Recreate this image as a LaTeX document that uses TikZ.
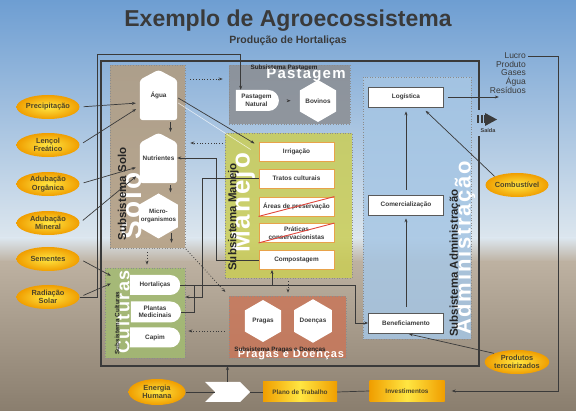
\documentclass[tikz,border=0pt]{standalone}
\usepackage{fontspec}
\setmainfont{Liberation Sans}
\newfontfamily\widefont[LetterSpace=8]{Liberation Sans}
\usepackage{tikz}
\usetikzlibrary{arrows.meta,calc,shapes.geometric,shapes.misc,shapes.symbols}
\definecolor{sky}{HTML}{6E9ED2}
\definecolor{haze}{HTML}{DCE6EE}
\definecolor{ground}{HTML}{BDB1A1}
\definecolor{soil}{HTML}{8A7E6E}
\definecolor{ink}{HTML}{3A3A3A}
\definecolor{extin}{HTML}{FFE642}
\definecolor{extout}{HTML}{F09E00}
\definecolor{extink}{HTML}{4E4428}
\definecolor{solop}{HTML}{B39C7E}
\definecolor{pastp}{HTML}{8C8E92}
\definecolor{manep}{HTML}{CACD56}
\definecolor{cultp}{HTML}{A3BC72}
\definecolor{pragp}{HTML}{C8775A}
\definecolor{admp}{HTML}{A6C6E4}
\definecolor{boxline}{HTML}{E8A24A}
\definecolor{cross}{HTML}{E0463C}
\pgfdeclarelayer{bg}
\pgfdeclarelayer{mid}
\pgfsetlayers{bg,mid,main}

\begin{document}
\begin{tikzpicture}[x=1pt, y=-1pt, font=\fontsize{6.4}{7.4}\selectfont\bfseries, text=ink,
  >={Stealth[length=4pt,width=3pt]},
  link/.style={draw=ink, line width=0.7pt},
  dots/.style={draw=ink, line width=0.8pt, dotted},
  frame/.style={draw=ink, line width=1.2pt},
  panel/.style={draw=black!45, dotted, line width=0.6pt, fill opacity=0.85, inner sep=0pt},
  ext/.style={ellipse, minimum width=63pt, minimum height=24pt, inner sep=0pt, align=center, inner color=extin, outer color=extout, text=extink, font=\fontsize{7.4}{8.4}\selectfont\bfseries},
  plan/.style={minimum width=74pt, minimum height=20pt, inner sep=0pt, left color=extout, right color=extout, middle color=extin, text=extink},
  hbox/.style={minimum width=37pt, minimum height=50pt, inner sep=0pt, align=center},
  hexa/.style={regular polygon, regular polygon sides=6, shape border rotate=30, fill=white, inner sep=0pt, align=center},
  crop/.style={rounded rectangle, rounded rectangle left arc=none, fill=white, minimum width=50pt, minimum height=20pt, inner sep=0pt, align=center},
  mbox/.style={draw=boxline, line width=0.8pt, fill=white, minimum width=75pt, minimum height=19pt, inner sep=0pt, align=center},
  abox/.style={draw=black!65, line width=0.7pt, fill=white, minimum width=75pt, minimum height=20pt, inner sep=0pt},
  big/.style={text=white, font=\widefont\bfseries\fontsize{#1}{#1}\selectfont},
  tag/.style={text=black!85, font=\fontsize{#1}{#1}\selectfont\bfseries}]
  \useasboundingbox (0,0) rectangle (576,411);
  \begin{pgfonlayer}{bg}
    % sky and ground
    \shade[top color=sky, bottom color=haze] (0,0) rectangle (576,238);
    \shade[top color=haze, bottom color=ground] (0,238) rectangle (576,262);
    \shade[top color=ground, bottom color=soil] (0,262) rectangle (576,411);
    % subsystem panels
    \node[panel, fill=solop, minimum width=75pt, minimum height=183pt] (solo) at (147.5,156.5) {};
    \node[panel, fill=pastp, minimum width=121pt, minimum height=59pt] (past) at (289.5,94.5) {};
    \node[panel, fill=manep, minimum width=127pt, minimum height=145pt] (mane) at (288.5,205.5) {};
    \node[panel, fill=cultp, minimum width=80pt, minimum height=90pt] (cult) at (145,313) {};
    \node[panel, fill=pragp, minimum width=117pt, minimum height=62pt] (prag) at (287.5,327) {};
    \node[panel, fill=admp, minimum width=108pt, minimum height=262pt] (adm) at (417,208) {};
    % big panel names
    \node[big=28, rotate=90] (soloB) at (131,206) {Solo};
    \node[big=15] (pastB) at (306,75) {Pastagem};
    \node[big=26, rotate=90] (maneB) at (243,203) {Manejo};
    \node[big=18, rotate=90] (cultB) at (123,312) {Culturas};
    \node[big=11] (pragB) at (291,355) {Pragas e Doenças};
    \node[big=22, rotate=90] (admB) at (465,248) {Administração};
  \end{pgfonlayer}

  % title
  \node[font=\fontsize{23}{25}\selectfont\bfseries] (title) at (288,21) {Exemplo de Agroecossistema};
  \node[font=\fontsize{10.5}{12}\selectfont\bfseries] (subtitle) at (288,41) {Produção de Hortaliças};

  % subsystem names
  \node[tag=11.5, rotate=90] (soloT) at (122,194) {Subsistema Solo};
  \node[tag=6.3] (pastT) at (284,68) {Subsistema Pastagem};
  \node[tag=11.5, rotate=90] (maneT) at (233.5,217) {Subsistema Manejo};
  \node[tag=6.3, rotate=90] (cultT) at (117,323) {Subsistema Culturas};
  \node[tag=6.3] (pragT) at (280,350) {Subsistema Pragas e Doenças};
  \node[tag=11.5, rotate=90] (admT) at (455,263) {Subsistema Administração};

  % frame
  \draw[frame] (479,110) -- (479,61) -- (101,61) -- (101,366) -- (479,366) -- (479,136);
  \coordinate (fbot) at (229,366);

  % soil
  \node[hbox] (agua) at (158.5,95) {Água};
  \node[hbox] (nutr) at (158.5,158) {Nutrientes};
  \begin{pgfonlayer}{mid}
    \foreach \nm in {agua,nutr}
      \fill[white, rounded corners=3pt] (\nm.south west) -- ($(\nm.north west)+(0,10)$) -- (\nm.north) -- ($(\nm.north east)+(0,10)$) -- (\nm.south east) -- cycle;
  \end{pgfonlayer}
  \node[hexa, minimum size=45pt, label={[align=center, font=\fontsize{6.2}{7.2}\selectfont\bfseries]center:Micro-\\organismos}] (micro) at (158.5,216) {};

  % pasture
  \node[crop, minimum width=43pt, minimum height=21pt] (pnat) at (256.5,100.5) {Pastagem\\Natural};
  \node[hexa, minimum size=42pt] (bov) at (318,101) {Bovinos};

  % management
  \foreach \nm/\y/\txt in {irri/151.5/Irrigação, trat/178.5/Tratos culturais, area/206.5/Áreas de preservação, prat/233/{Práticas\\conservacionistas}, comp/260/Compostagem}
    \node[mbox] (\nm) at (296.5,\y) {\txt};
  \foreach \nm in {area,prat}
    \draw[cross, line width=0.9pt] (\nm.south west) -- (\nm.north east);

  % crops
  \node[crop] (hort) at (155,285) {Hortaliças};
  \node[crop, minimum height=21pt] (pmed) at (155,312) {Plantas\\Medicinais};
  \node[crop] (capim) at (155,337.5) {Capim};

  % pests and diseases
  \node[hexa, minimum size=42pt] (prg) at (263,321) {Pragas};
  \node[hexa, minimum size=42pt] (doe) at (313,321) {Doenças};

  % administration
  \node[abox] (logi) at (406,97) {Logística};
  \node[abox] (come) at (406,205) {Comercialização};
  \node[abox] (bene) at (406,323) {Beneficiamento};

  % external inputs
  \foreach \nm/\y/\txt in {prec/107/Precipitação, lenc/145/{Lençol\\Freático}, adorg/184/{Adubação\\Orgânica}, admn/223/{Adubação\\Mineral}, seme/259/Sementes, radi/297/{Radiação\\Solar}}
    \node[ext] (\nm) at (48,\y) {\txt};
  \node[ext, minimum width=57pt, minimum height=26pt] (ener) at (157,392) {Energia\\Humana};
  \node[ext] (comb) at (517,185) {Combustível};
  \node[ext] (prod) at (517,362) {Produtos\\terceirizados};

  % work plan
  \node[signal, signal from=west, signal to=east, fill=white, minimum width=45pt, minimum height=20pt, inner sep=0pt] (chev) at (227.5,392) {};
  \node[plan] (plano) at (300,392) {Plano de Trabalho};
  \node[plan, minimum width=75pt, minimum height=21pt] (inve) at (407,391) {Investimentos};

  % outputs
  \foreach \nm/\y/\txt in {lucro/56/Lucro, produto/64.5/Produto, gases/73/Gases, aguas/81.5/Água, resid/90.5/Resíduos}
    \node[anchor=east, font=\fontsize{8.5}{9}\selectfont, inner sep=0pt] (\nm) at (526,\y) {\txt};
  \fill[ink] (485,113) -- (497,119.5) -- (485,126) -- cycle;
  \foreach \x in {477,480.5,484}
    \fill[ink] (\x,115.5) rectangle ++(2.4,8);
  \node[font=\fontsize{5.5}{6}\selectfont\bfseries] (saida) at (488,131) {Saída};

  % inputs into the soil and crops
  \draw[link,->,shorten <=4pt,shorten >=2pt] (prec.east) -- ($(agua.west)+(-2,8)$);
  \draw[link,->,shorten <=4pt,shorten >=2pt] (lenc.east) -- ($(agua.west)+(-2,13)$);
  \draw[link,->,shorten <=4pt,shorten >=2pt] (adorg.east) -- ($(nutr.west)+(-2,9)$);
  \draw[link,->,shorten <=4pt,shorten >=2pt] (admn.east) -- ($(nutr.west)+(-2,17)$);
  \draw[link,->,shorten <=4pt,shorten >=2pt] (seme.east) -- ($(cult.north west)+(8,9)$);
  \draw[link,->,shorten <=4pt,shorten >=2pt] (radi.east) -- ($(cult.north west)+(8,15)$);
  \draw[link,->] (radi.east) -- ++(18,0) |- ($(pnat.north west)+(5,-35)$) -- ($(pnat.north west)+(5,0)$);

  % inside the soil and the pasture
  \draw[link,->] ($(agua.south)+(12,2)$) -- ($(nutr.north)+(12,-1)$);
  \draw[link,->] ($(nutr.south)+(12,2)$) -- ($(micro.north)+(12,-1)$);
  \draw[link,->] ($(micro.south)+(13,-6)$) -- ++(0,10) coordinate (microout);
  \draw[link,->,shorten <=9pt,shorten >=9pt] (pnat.east) -- (bov.west);

  % between subsystems
  \draw[dots,->,shorten <=5pt,shorten >=6pt] (solo.east |- 0,79) -- (past.west |- 0,79);
  \draw[dots,->,shorten <=2pt,shorten >=5pt] (mane.west |- 0,143) -- (solo.east |- 0,143);
  \draw[dots,->,shorten <=4pt,shorten >=3pt] (solo.south -| 147,0) -- (cult.north -| 147,0);
  \draw[dots,->,shorten <=1pt,shorten >=5pt] (solo.south east) -- (prag.north west);
  \draw[dots,->,shorten <=3pt,shorten >=3pt] (mane.south -| 288,0) -- (prag.north -| 288,0);
  \draw[dots,->,shorten <=4pt,shorten >=3pt] (prag.west |- 0,331) -- (cult.east |- 0,331);
  \draw[white, opacity=0.7, line width=0.6pt] ($(agua.east)+(1,8)$) -- ($(irri.west)+(-8,-2)$);
  \draw[link,->] ($(agua.east)+(1,3)$) -- ($(irri.west)+(-4,-8)$);
  \draw[link,->] (comp.west) -- ++(-42,0) |- (nutr.east);
  \draw[link,->] (trat.west) -- ++(-56,0) |- (cult.east |- 0,297);
  \draw[link,->] (hort.east) -- ++(175,0) |- (bene.west);
  \draw[link] (pmed.east) -- ++(13,0) |- (hort.east);
  \draw[link,->] (hort.east -| 272,0) -- (comp.south -| 272,0);

  % administration flow
  \draw[link,->,shorten <=6pt,shorten >=3pt] (bene.north) -- (come.south);
  \draw[link,->,shorten <=5pt,shorten >=4pt] (come.north) -- (logi.south);
  \draw[link,->,shorten <=4pt] (logi.east) -- ++(55,0) coordinate (out);
  \draw[link,->,shorten >=5pt] (comb.north west) -- ($(logi.south)+(16,0)$);
  \draw[link,->,shorten >=3pt] (prod.north west) -- (bene.south);
  \draw[link,->,shorten <=2pt,shorten >=7pt] (lucro.east) -- ++(32,0) |- (inve.east);

  % work plan chain
  \draw[link] (ener.east) -- (chev.west);
  \draw[link] (chev.east) -- (plano.west);
  \draw[link] (plano.east) -- (inve.west);
  \draw[link,->] (chev.north) -- (chev.north |- fbot);
\end{tikzpicture}
\end{document}
